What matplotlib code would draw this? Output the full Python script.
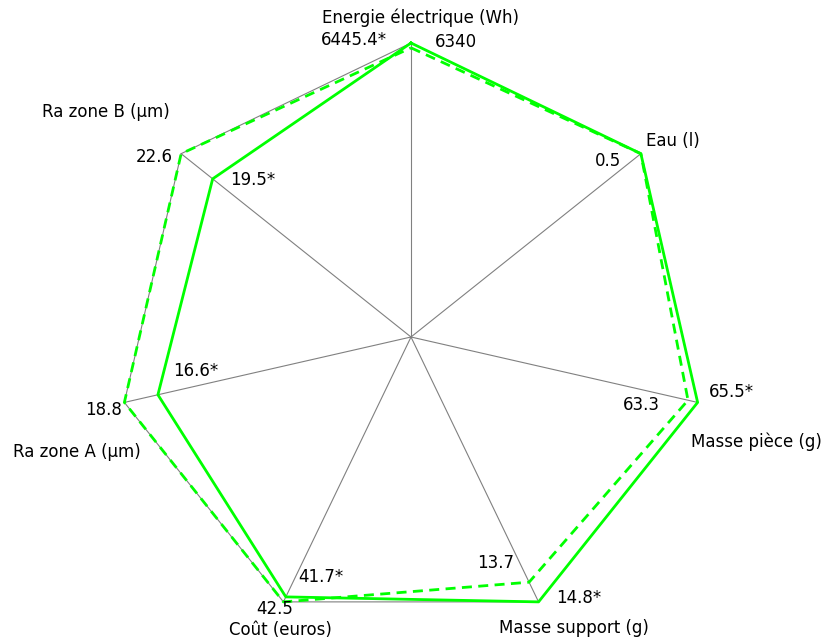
import numpy as np
import matplotlib
matplotlib.use('Agg')
import matplotlib.pyplot as plt

plt.rcParams['font.family'] = 'DejaVu Sans'

# axes of the radar, clockwise from the top
categories = ['Energie électrique (Wh)', 'Eau (l)', 'Masse pièce (g)',
              'Masse support (g)', 'Coût (euros)', 'Ra zone A (µm)',
              'Ra zone B (µm)']
solid_vals = [6445.4, 0.5, 65.5, 14.8, 41.7, 16.6, 19.5]
dashed_vals = [6340, 0.5, 63.3, 13.7, 42.5, 18.8, 22.6]
solid_labels = ['6445.4*', '', '65.5*', '14.8*', '41.7*', '16.6*', '19.5*']
dashed_labels = ['6340', '0.5', '63.3', '13.7', '42.5', '18.8', '22.6']

GREEN = '#00ff00'
GRID = '#808080'

n = len(categories)
theta = np.linspace(0, 2 * np.pi, n, endpoint=False)
vmax = np.maximum(solid_vals, dashed_vals)
r_solid = np.array(solid_vals) / vmax
r_dashed = np.array(dashed_vals) / vmax

fig = plt.figure(figsize=(8.21, 6.42), dpi=100)
ax = fig.add_axes([117 / 821, 11 / 642, 588 / 821, 588 / 642], projection='polar')
ax.set_theta_offset(np.pi / 2)
ax.set_theta_direction(-1)
ax.set_ylim(0, 1)
ax.grid(False)
ax.spines['polar'].set_visible(False)
ax.set_xticks([])
ax.set_yticks([])
ax.patch.set_visible(False)


def closed(a):
    return np.append(a, a[0])


# spokes and outer polygon
for t in theta:
    ax.plot([t, t], [0, 1], color=GRID, lw=0.8, clip_on=False, zorder=1)
ax.plot(closed(theta), np.ones(n + 1), color=GRID, lw=0.8, clip_on=False, zorder=1)

ax.plot(closed(theta), closed(r_dashed), color=GREEN, lw=2.0,
        dashes=(3.6, 2.3), clip_on=False, zorder=3)
ax.plot(closed(theta), closed(r_solid), color=GREEN, lw=2.0,
        clip_on=False, zorder=2)

# value labels: offsets in pixels from the point
solid_off = [(-24, 3, 'right'), None, (11, 10, 'left'), (18, 4, 'left'),
             (12, 20, 'left'), (15, 24, 'left'), (17, -1, 'left')]
dashed_off = [(24, 6, 'left'), (-20, -7, 'right'), (-28, -5, 'right'),
              (-15, 19, 'right'), (-9, -7, 'center'), (-2, -8, 'right'),
              (-8, -3, 'right')]
fs = 12
for i in range(n):
    if solid_labels[i]:
        dx, dy, ha = solid_off[i]
        ax.annotate(solid_labels[i], (theta[i], r_solid[i]), xytext=(dx, dy),
                    textcoords='offset pixels', ha=ha, va='center', fontsize=fs)
    dx, dy, ha = dashed_off[i]
    ax.annotate(dashed_labels[i], (theta[i], r_dashed[i]), xytext=(dx, dy),
                textcoords='offset pixels', ha=ha, va='center', fontsize=fs)

# axis names
name_off = [(9, 25, 'center'), (5, 13, 'left'), (-7, -39, 'left'),
            (-40, -26, 'left'), (-3, -28, 'center'), (-111, -50, 'left'),
            (-139, 42, 'left')]
for i, name in enumerate(categories):
    dx, dy, ha = name_off[i]
    ax.annotate(name, (theta[i], 1), xytext=(dx, dy), textcoords='offset pixels',
                ha=ha, va='center', fontsize=fs)

fig.savefig('out.png', dpi=100)
